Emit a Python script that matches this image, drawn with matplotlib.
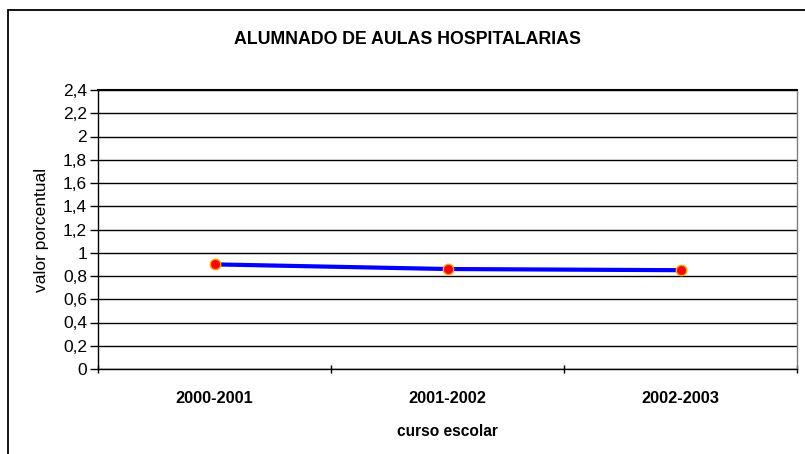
import matplotlib
matplotlib.use("Agg")
import matplotlib.pyplot as plt
from matplotlib.patches import Rectangle
from matplotlib.ticker import FixedLocator, FuncFormatter

categories = ["2000-2001", "2001-2002", "2002-2003"]
values = [0.90, 0.86, 0.85]
yticks = [0, 0.2, 0.4, 0.6, 0.8, 1.0, 1.2, 1.4, 1.6, 1.8, 2.0, 2.2, 2.4]

plt.rcParams['font.family'] = ['Liberation Sans', 'DejaVu Sans']

fig = plt.figure(figsize=(8.05, 4.54), dpi=100)
fig.patch.set_facecolor('white')

# outer chart frame (clipped at right and bottom)
fig.patches.append(Rectangle((8/805, -0.1), 1.2, (454-10)/454 + 0.1,
                             transform=fig.transFigure, fill=False,
                             edgecolor='black', linewidth=1.3))

ax = fig.add_axes([98/805, 1-369/454, (797-98)/805, (369-90)/454])
x = list(range(len(categories)))
ax.plot(x, values, color='#0000ff', linewidth=3, zorder=3,
        marker='o', markersize=7.5, markerfacecolor='#ff0000',
        markeredgecolor='#ffa500', markeredgewidth=1)

ax.set_xlim(-0.5, len(categories) - 0.5)
ax.set_ylim(0, 2.4)
ax.yaxis.set_major_locator(FixedLocator(yticks))
ax.yaxis.set_major_formatter(FuncFormatter(lambda v, p: ('%g' % round(v, 1)).replace('.', ',')))
ax.grid(axis='y', color='black', linewidth=1)
ax.set_axisbelow(True)

ax.set_xticks(x)
ax.set_xticklabels(categories, fontweight='bold', fontsize=11.8)
ax.xaxis.set_minor_locator(FixedLocator([-0.5, 0.5, 1.5, 2.5]))
ax.tick_params(axis='x', which='major', length=0, pad=16)
ax.tick_params(axis='x', which='minor', length=6, width=1, direction='inout', color='black')
ax.tick_params(axis='y', length=6, width=1, direction='out', labelsize=12.5, pad=2)

for s in ['left', 'bottom']:
    ax.spines[s].set_color('black')
    ax.spines[s].set_linewidth(1)
ax.spines['right'].set_color('#808080')
ax.spines['right'].set_linewidth(1)
ax.spines['top'].set_color('black')
ax.spines['top'].set_linewidth(1.5)

ax.set_xlabel('curso escolar', fontweight='bold', fontsize=11.2, labelpad=13)
ax.set_ylabel('valor porcentual', fontsize=12.5, labelpad=10)
fig.text(407/805, 1-40/454, 'ALUMNADO DE AULAS HOSPITALARIAS',
         ha='center', va='center', fontweight='bold', fontsize=12.8)

fig.savefig('out.png', dpi=100, facecolor='white')
